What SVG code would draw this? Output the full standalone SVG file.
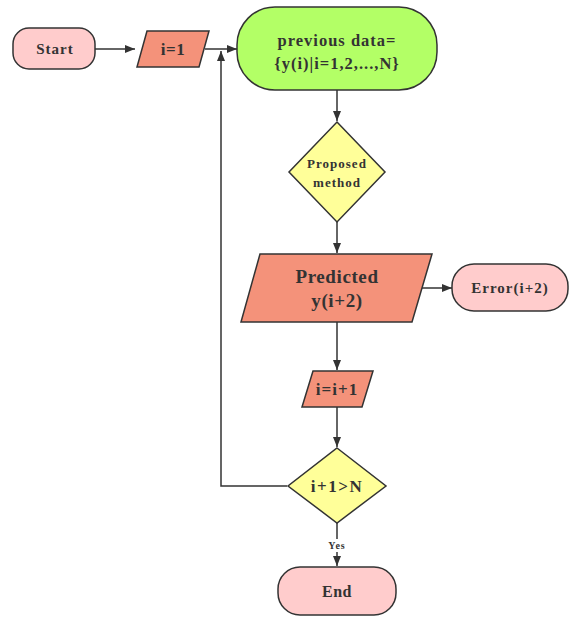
<svg xmlns="http://www.w3.org/2000/svg" width="573" height="617" viewBox="0 0 573 617">
<style>
.s{stroke:#333;stroke-width:1.5}
.pink{fill:#ffcccc}
.sal{fill:#f4927a}
.yel{fill:#ffff99}
.grn{fill:#b3ff66}
text{font-family:"Liberation Serif","Times New Roman",serif;font-weight:bold;fill:#333;text-anchor:middle;dominant-baseline:central;letter-spacing:1px}
.c{fill:none;stroke:#333;stroke-width:1.5}
</style>
<defs>
<marker id="ah" markerWidth="10" markerHeight="8" refX="10" refY="4" orient="auto" markerUnits="userSpaceOnUse">
<path d="M0,0 L10,4 L0,8 Z" fill="#333"/>
</marker>
</defs>
<rect width="573" height="617" fill="#fff"/>
<g id="connectors">
<line class="c" x1="95" y1="49" x2="135" y2="49" marker-end="url(#ah)"/>
<line class="c" x1="205" y1="49" x2="237" y2="49" marker-end="url(#ah)"/>
<line class="c" x1="337" y1="90" x2="337" y2="121" marker-end="url(#ah)"/>
<line class="c" x1="337" y1="222" x2="337" y2="253" marker-end="url(#ah)"/>
<line class="c" x1="418" y1="288" x2="452" y2="288" marker-end="url(#ah)"/>
<line class="c" x1="337" y1="322" x2="337" y2="370" marker-end="url(#ah)"/>
<line class="c" x1="337" y1="407" x2="337" y2="447" marker-end="url(#ah)"/>
<polyline class="c" points="287,486 221,486 221,51" marker-end="url(#ah)"/>
<line class="c" x1="337" y1="523" x2="337" y2="566" marker-end="url(#ah)"/>
<rect x="324" y="539" width="26" height="13" fill="#fff"/>
<text x="337" y="545" font-size="10">Yes</text>
</g>
<g id="start">
<rect class="s pink" x="13" y="28" width="82" height="41" rx="16"/>
<text x="55" y="49" font-size="15">Start</text>
</g>
<g id="init">
<polygon class="s sal" points="147,31 209,31 199,67 137,67"/>
<text x="173" y="49" font-size="17" style="letter-spacing:0.5px">i=1</text>
</g>
<g id="prevdata">
<rect class="s grn" x="237" y="7" width="200" height="83" rx="38"/>
<text x="337" y="40" font-size="16.5">previous data=</text>
<text x="337" y="63" font-size="16.5">{y(i)|i=1,2,...,N}</text>
</g>
<g id="proposed">
<polygon class="s yel" points="337,122 385,172 337,222 289,172"/>
<text x="337" y="163" font-size="13">Proposed</text>
<text x="337" y="182" font-size="13">method</text>
</g>
<g id="predicted">
<polygon class="s sal" points="260,254 432,254 412,322 241,322"/>
<text x="337" y="276" font-size="19" style="letter-spacing:0.6px">Predicted</text>
<text x="337" y="300" font-size="19" style="letter-spacing:0.6px">y(i+2)</text>
</g>
<g id="error">
<rect class="s pink" x="452" y="264" width="116" height="47" rx="22"/>
<text x="510" y="288" font-size="15">Error(i+2)</text>
</g>
<g id="incr">
<polygon class="s sal" points="313,371 373,371 362,407 302,407"/>
<text x="337" y="389" font-size="17">i=i+1</text>
</g>
<g id="check">
<polygon class="s yel" points="337,448 386,486 337,523 288,486"/>
<text x="337" y="486" font-size="17" style="letter-spacing:1.5px">i+1&gt;N</text>
</g>
<g id="end">
<rect class="s pink" x="278" y="567" width="118" height="48" rx="22"/>
<text x="337" y="591" font-size="16" style="letter-spacing:0.5px">End</text>
</g>
</svg>
